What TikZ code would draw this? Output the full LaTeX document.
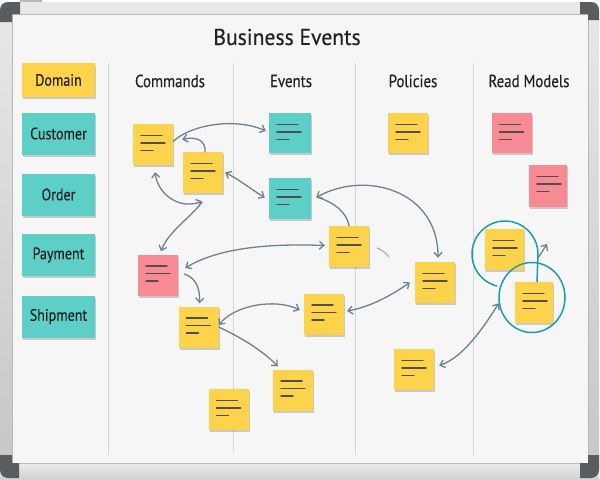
\documentclass[tikz,border=0pt]{standalone}
\usepackage{fontspec}
\setmainfont{PT Sans}
\newfontfamily\titlefont{PT Sans}[FakeStretch=0.95,FakeBold=0.4]
\newfontfamily\labfont{PT Sans}[FakeStretch=0.85,FakeBold=0.4]
\usetikzlibrary{arrows.meta,shadows,calc,shapes.geometric}
\definecolor{stickyyellow}{HTML}{FCD34A}
\definecolor{stickyteal}{HTML}{5DCFC6}
\definecolor{stickypink}{HTML}{F78A92}
\definecolor{arrowcol}{HTML}{6A8293}
\definecolor{circlecol}{HTML}{1E9CAB}
\definecolor{board}{HTML}{F6F6F6}
\definecolor{inkcol}{HTML}{222222}
\definecolor{linecol}{HTML}{4F4F4F}
\definecolor{framedark}{HTML}{5A5D60}
\definecolor{seplinecol}{HTML}{D4D6D8}
\begin{document}
\begin{tikzpicture}[x=1pt,y=-1pt,
  noteline/.style={draw=linecol,line width=1.4pt,line cap=round},
  sticky/.style={fill=#1,draw=none,minimum width=40pt,minimum height=41pt,inner sep=0pt,
    drop shadow={shadow xshift=1.2pt,shadow yshift=-2pt,opacity=0.18,fill=black},
    path picture={
      \draw[noteline] ([xshift=8pt,yshift=-11.5pt]path picture bounding box.north west) -- ++(21pt,0pt);
      \draw[noteline] ([xshift=8pt,yshift=-19pt]path picture bounding box.north west) -- ++(24pt,0pt);
      \draw[noteline] ([xshift=8pt,yshift=-26.5pt]path picture bounding box.north west) -- ++(12pt,0pt);
    }},
  labelbox/.style={fill=#1,draw=none,minimum width=73pt,minimum height=42pt,inner sep=0pt,
    drop shadow={shadow xshift=1.2pt,shadow yshift=-2pt,opacity=0.18,fill=black},
    font=\labfont\fontsize{16.5}{17}\selectfont,text=inkcol},
  hdr/.style={font=\labfont\fontsize{17.5}{18}\selectfont,text=inkcol,inner sep=0pt},
  sep/.style={draw=seplinecol,line width=0.8pt},
  conn/.style={draw=arrowcol,line width=1.3pt,line cap=round},
  tip/.tip={Straight Barb[length=4.5pt,width=8pt]},
  ring/.style={draw=circlecol,line width=1.5pt}
]
\useasboundingbox (0,0) rectangle (600,479);
\fill[white] (0,0) rectangle (600,479);
% frame
\fill[gray!55] (20,0) rectangle (42,4);
\shade[top color=gray!18,bottom color=gray!45,rounded corners=5pt] (0,2) rectangle (599,478);
\shade[top color=gray!15,bottom color=gray!35] (0,463) rectangle (599,478);
\fill[board] (12,14) rectangle (588,463);
\draw[gray!55,line width=0.7pt] (12,14) rectangle (588,463);
\fill[framedark] (0,22) -- (0,10) arc[start angle=180,end angle=270,radius=8] -- (20,2) -- (20,14) -- (12,14) -- (12,22) -- cycle;
\fill[framedark] (580,2) -- (591,2) arc[start angle=270,end angle=360,radius=8] -- (599,20) -- (588,20) -- (588,14) -- (580,14) -- cycle;
\fill[framedark] (0,455) -- (0,470) arc[start angle=180,end angle=90,radius=8] -- (19,478) -- (19,463) -- (12,463) -- (12,455) -- cycle;
\fill[framedark] (599,455) -- (599,470) arc[start angle=0,end angle=90,radius=8] -- (580,478) -- (580,463) -- (588,463) -- (588,455) -- cycle;
% column separators
\draw[sep] (108,63) -- (108,455);
\draw[sep] (233,63) -- (233,452);
\draw[sep] (355,63) -- (355,455);
\draw[sep] (473,63) -- (473,455);
% title and headers
\node[font=\titlefont\fontsize{22.8}{23}\selectfont,text=inkcol] (title) at (287,37) {Business Events};
\node[hdr] (hcmd) at (170,81) {Commands};
\node[hdr] (hevt) at (291,81) {Events};
\node[hdr] (hpol) at (413,81) {Policies};
\node[hdr] (hrm) at (529,81) {Read Models};
% left labels
\node[labelbox=stickyyellow,minimum height=34pt] (dom) at (58.5,80) {Domain};
\node[labelbox=stickyteal] (cus) at (58.5,133.5) {Customer};
\node[labelbox=stickyteal] (ord) at (58.5,194.5) {Order};
\node[labelbox=stickyteal] (pay) at (58.5,255) {Payment};
\node[labelbox=stickyteal] (shp) at (58.5,316.5) {Shipment};
% sticky notes
\node[sticky=stickyyellow] (c1) at (153,144.5) {};
\node[sticky=stickyyellow] (c2) at (203,172.5) {};
\node[sticky=stickyteal,minimum width=42pt,minimum height=40pt] (e1) at (290,133) {};
\node[sticky=stickyteal,minimum width=42pt] (e2) at (290,198.5) {};
\node[sticky=stickypink] (c3) at (158,275) {};
\node[sticky=stickyyellow] (c4) at (198.5,327) {};
\node[sticky=stickyyellow] (e3) at (349,246.5) {};
\node[sticky=stickyyellow] (e4) at (324,314) {};
\node[sticky=stickyyellow] (e5) at (293,390) {};
\node[sticky=stickyyellow] (c5) at (228.5,409.5) {};
\node[sticky=stickyyellow,minimum height=40pt] (p1) at (408,133) {};
\node[sticky=stickyyellow] (p2) at (435,282.5) {};
\node[sticky=stickyyellow] (p3) at (414,369.5) {};
\node[sticky=stickypink,minimum height=40pt] (r1) at (511.5,133) {};
\node[sticky=stickypink,minimum width=38pt,minimum height=42pt] (r2) at (548,186) {};
\node[sticky=stickyyellow,minimum width=39pt] (r3) at (504.5,249.5) {};
\node[sticky=stickyyellow,minimum width=38pt] (r4) at (534,302.5) {};
% rings
\draw[ring] (497,286) arc[start angle=104,end angle=360,radius=33] -- (537,282);
\node[ellipse,ring,minimum width=66pt,minimum height=70pt,inner sep=0pt] (ring2) at (532,297.5) {};
% connectors
\draw[conn,-{tip}] ([yshift=3pt]c1.east) .. controls (190,125) and (235,117) .. ([xshift=-3pt,yshift=2pt]e1.west);
\draw[conn,-{tip}] ([xshift=2pt]c2.north) .. controls (206,141) and (197,136) .. ([xshift=9pt,yshift=5pt]c1.east);
\draw[conn,{tip}-{tip}] ([xshift=2pt,yshift=-7pt]c1.south) .. controls (158,195) and (180,210) .. ([xshift=-1pt,yshift=-8pt]c2.south);
\draw[conn,-{tip}] ([xshift=-1pt,yshift=-9pt]c2.south) .. controls (190,218) and (168,232) .. ([xshift=3pt,yshift=3pt]c3.north);
\draw[conn,{tip}-{tip}] ([xshift=2pt]c2.east) .. controls (240,180) and (252,190) .. ([xshift=-4pt,yshift=1pt]e2.west);
\draw[conn,{tip}-{tip}] ([xshift=5pt,yshift=1pt]e2.east) .. controls (365,170) and (438,190) .. ([xshift=3pt,yshift=4pt]p2.north);
\draw[conn] (e3.north) .. controls (347,212) and (333,202) .. ([xshift=7pt,yshift=1pt]e2.east);
\draw[conn,{tip}-{tip}] ([xshift=7pt,yshift=7pt]c3.east) .. controls (215,250) and (260,243) .. ([xshift=-4pt,yshift=1pt]e3.west);
\coordinate (fragA) at (377,248);
\coordinate (fragB) at (389,257);
\draw[conn,draw opacity=0.55] (fragA) .. controls (382,250) and (386,253) .. (fragB);
\draw[conn,-{tip}] ([xshift=6pt,yshift=1pt]c3.east) .. controls (197,278) and (200,290) .. ([xshift=1pt,yshift=3pt]c4.north);
\draw[conn,{tip}-{tip}] ([yshift=2pt]c4.east) .. controls (235,305) and (275,298) .. ([xshift=-4pt,yshift=4pt]e4.west);
\draw[conn,-{tip}] (c4.east) .. controls (240,337) and (262,350) .. ([xshift=5pt,yshift=3pt]e5.north west);
\draw[conn,{tip}-{tip}] ([xshift=3pt,yshift=3pt]e4.east) .. controls (370,307) and (392,295) .. ([xshift=-5pt]p2.west);
\draw[conn,{tip}-{tip}] ([xshift=5pt,yshift=4pt]p3.east) .. controls (462,358) and (482,330) .. (ring2.190);
\coordinate (smallA) at (538,258);
\coordinate (smallB) at (547,244);
\draw[conn,-{tip}] (smallA) -- (smallB);
\end{tikzpicture}
\end{document}
